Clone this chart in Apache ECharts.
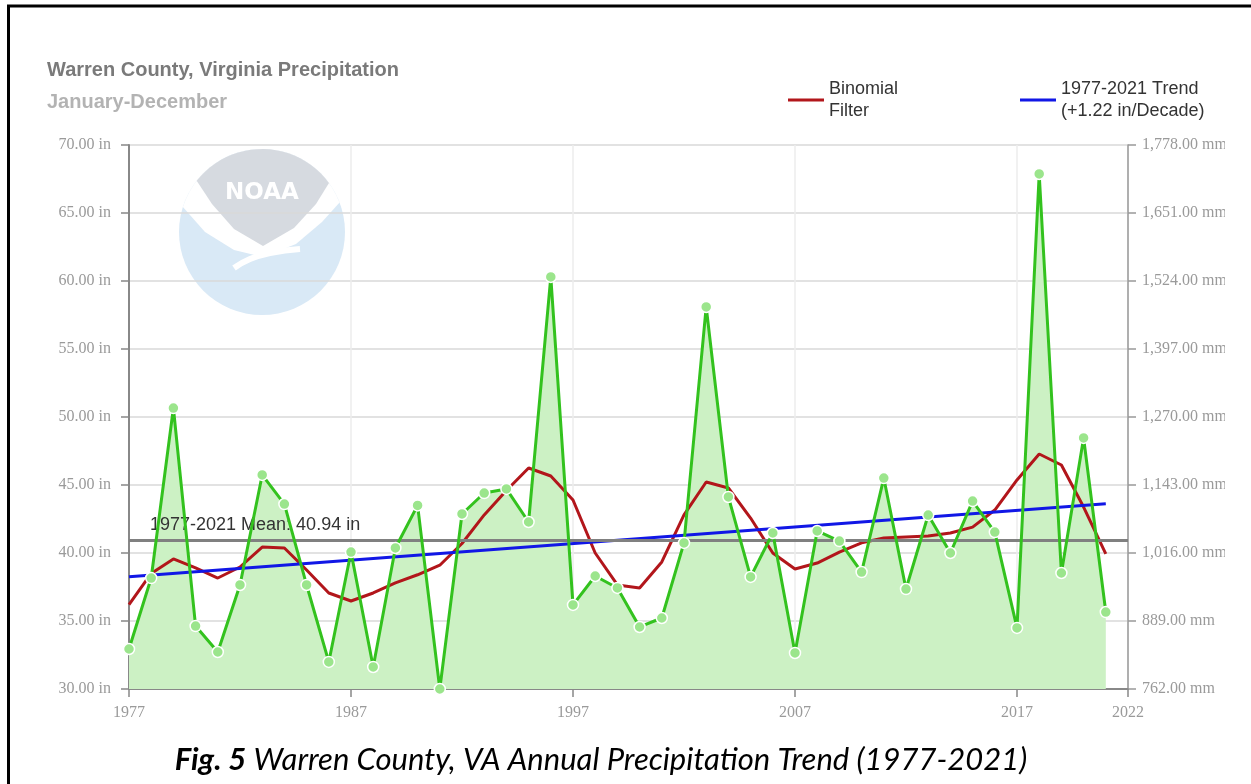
<!DOCTYPE html>
<html>
<head>
<meta charset="utf-8">
<script src="https://cdn.jsdelivr.net/npm/echarts@6/dist/echarts.min.js"></script>
<style>
    html, body { margin: 0; padding: 0; background: #fff; }
    #chart { width: 1251px; height: 784px; }
</style>
</head>
<body>
<div id="chart"></div>
<script>
    // years on the x axis (2022 is only the axis end)
    var years = ['1977','1978','1979','1980','1981','1982','1983','1984','1985','1986',
                 '1987','1988','1989','1990','1991','1992','1993','1994','1995','1996',
                 '1997','1998','1999','2000','2001','2002','2003','2004','2005','2006',
                 '2007','2008','2009','2010','2011','2012','2013','2014','2015','2016',
                 '2017','2018','2019','2020','2021','2022'];
    var labelYears = ['1977','1987','1997','2007','2017','2022'];

    // annual precipitation, inches
    var precip = [32.94, 38.16, 50.66, 34.63, 32.72, 37.65, 45.74, 43.60, 37.65, 31.99,
                  40.07, 31.62, 40.37, 43.50, 30.00, 42.87, 44.41, 44.71, 42.28, 60.30,
                  36.18, 38.31, 37.43, 34.56, 35.22, 40.74, 58.09, 44.12, 38.24, 41.47,
                  32.65, 41.62, 40.88, 38.60, 45.51, 37.35, 42.79, 40.00, 43.82, 41.54,
                  34.49, 67.87, 38.53, 48.46, 35.66];

    // binomial filter
    var binomial = [36.20, 38.50, 39.56, 38.90, 38.16, 38.97, 40.44, 40.37, 38.75, 37.06,
                    36.47, 37.06, 37.80, 38.40, 39.10, 40.70, 42.80, 44.60, 46.25, 45.66,
                    43.90, 40.00, 37.65, 37.43, 39.34, 42.80, 45.22, 44.78, 42.57, 40.00,
                    38.82, 39.26, 40.07, 40.75, 41.10, 41.18, 41.25, 41.47, 41.90, 43.16,
                    45.37, 47.28, 46.47, 43.38, 39.93];

    // trend line end points
    var trendYears = ['1977', '2021'];
    var trendValues = [38.26, 43.62];

    var meanValue = 40.94;

    var inTicks = [30, 70, 5];
    var mmTicks = [762, 1778, 127];

    function showYear(i, v) {
        return labelYears.indexOf(v) !== -1;
    }
    function fmtMM(v) {
        var p = v.toFixed(2).split('.');
        return p[0].replace(/\B(?=(\d{3})+(?!\d))/g, ',') + '.' + p[1] + ' mm';
    }

    // points along the watermark circle, for the logo shapes
    function arc(a1, a2) {
        var pts = [];
        for (var k = 0; k <= 24; k++) {
            var a = (a1 + (a2 - a1) * k / 24) * Math.PI / 180;
            pts.push([262 + 83 * Math.cos(a), 232 + 83 * Math.sin(a)]);
        }
        return pts;
    }
    var capPts = arc(-162.4, -20.8).concat([[322, 222], [296, 244], [263, 257], [234, 250], [205, 232]]);
    var shieldPts = arc(-141.9, -36.2).concat([[316, 204], [294, 228], [263, 246], [234, 229], [212, 204]]);

    var serif = 'Liberation Serif';
    var sans = 'Liberation Sans';

    var myChart = echarts.init(document.getElementById('chart'));
    myChart.setOption({
        animation: false,
        backgroundColor: '#fff',
        title: {
            text: 'Warren County, Virginia Precipitation',
            subtext: 'January-December',
            left: 47,
            top: 60,
            padding: 0,
            itemGap: 12,
            textStyle: { fontFamily: sans, fontWeight: 'bold', fontSize: 20, lineHeight: 20, color: '#7a7a7a' },
            subtextStyle: { fontFamily: sans, fontWeight: 'bold', fontSize: 20, lineHeight: 20, color: '#b3b3b3' }
        },
        legend: [{
            left: 788, top: 78, padding: 0,
            icon: 'rect', itemWidth: 36, itemHeight: 3,
            selectedMode: false,
            data: ['Binomial Filter'],
            formatter: function () { return 'Binomial\nFilter'; },
            textStyle: { fontFamily: sans, fontSize: 18, lineHeight: 22, color: '#333' }
        }, {
            left: 1020, top: 78, padding: 0,
            icon: 'rect', itemWidth: 36, itemHeight: 3,
            selectedMode: false,
            data: ['1977-2021 Trend'],
            formatter: function () { return '1977-2021 Trend\n(+1.22 in/Decade)'; },
            textStyle: { fontFamily: sans, fontSize: 18, lineHeight: 22, color: '#333' }
        }],
        grid: { left: 129, right: 123, top: 145, bottom: 95 },
        xAxis: {
            type: 'category',
            boundaryGap: false,
            data: years,
            axisLine: { lineStyle: { color: '#888', width: 2 } },
            axisTick: { show: true, interval: showYear, length: 8, lineStyle: { color: '#888', width: 1.5 } },
            axisLabel: { interval: showYear, fontFamily: serif, fontSize: 16, color: '#9a9a9a', margin: 16 },
            splitLine: { show: true, interval: showYear, lineStyle: { color: '#ececec', width: 1.5 } }
        },
        yAxis: [{
            type: 'value',
            min: inTicks[0], max: inTicks[1], interval: inTicks[2],
            axisLine: { show: true, lineStyle: { color: '#888', width: 2 } },
            axisTick: { show: true, length: 8, lineStyle: { color: '#888', width: 1.5 } },
            axisLabel: {
                fontFamily: serif, fontSize: 16, color: '#9a9a9a', margin: 18,
                formatter: function (v) { return v.toFixed(2) + ' in'; }
            },
            splitLine: { lineStyle: { color: '#d9d9d9', width: 1.5 } }
        }, {
            type: 'value',
            position: 'right',
            min: mmTicks[0], max: mmTicks[1], interval: mmTicks[2],
            axisLine: { show: true, lineStyle: { color: '#999', width: 1.5 } },
            axisTick: { show: true, length: 8, lineStyle: { color: '#999', width: 1.5 } },
            axisLabel: { fontFamily: serif, fontSize: 16, color: '#9a9a9a', margin: 14, formatter: fmtMM },
            splitLine: { show: false }
        }],
        graphic: [
            // NOAA watermark
            { type: 'circle', z: -1, shape: { cx: 262, cy: 232, r: 83 }, style: { fill: '#d9e9f6' } },
            { type: 'polygon', z: -1, shape: { points: capPts }, style: { fill: '#fff' } },
            { type: 'polygon', z: -1, shape: { points: shieldPts }, style: { fill: '#d6dae0' } },
            { type: 'polyline', z: -1, shape: { points: [[234, 268], [250, 259], [270, 253], [300, 249]], smooth: 0.5 }, style: { stroke: '#fff', lineWidth: 6 } },
            { type: 'text', z: -1, style: { text: 'NOAA', x: 262, y: 193, fill: '#fff', font: 'bold 23px "DejaVu Sans"', align: 'center', verticalAlign: 'middle' } },
            // clip of the right labels
            { type: 'rect', z: 100, shape: { x: 1225, y: 20, width: 40, height: 780 }, style: { fill: '#fff' } },
            // frame
            { type: 'rect', z: 100, shape: { x: 8.5, y: 6, width: 1400, height: 1000 }, style: { fill: 'none', stroke: '#000', lineWidth: 3 } },
            // caption
            {
                type: 'text', z: 100,
                style: {
                    text: '{b|Fig. 5} Warren County, VA Annual Precipitation Trend (1977-2021)',
                    rich: { b: { font: 'italic bold 31px Lato', fill: '#000' } },
                    font: 'italic 31px Lato', fill: '#000',
                    x: 601, y: 760, align: 'center', verticalAlign: 'middle'
                }
            }
        ],
        series: [{
            name: 'area',
            type: 'line',
            data: precip,
            symbol: 'none',
            lineStyle: { width: 0, opacity: 0 },
            areaStyle: { color: '#ccf1c4', opacity: 1, origin: 'start' },
            z: 1,
            markLine: {
                silent: true,
                symbol: ['none', 'none'],
                data: [{ yAxis: meanValue }],
                lineStyle: { color: '#808080', width: 3, type: 'solid' },
                label: {
                    show: true,
                    position: 'insideStartTop',
                    formatter: '1977-2021 Mean: 40.94 in',
                    fontFamily: sans, fontSize: 18, color: '#333',
                    distance: [21, 6]
                }
            }
        }, {
            name: 'Binomial Filter',
            type: 'line',
            data: binomial,
            symbol: 'none',
            color: '#b2161b',
            lineStyle: { color: '#b2161b', width: 3 },
            z: 3
        }, {
            name: '1977-2021 Trend',
            type: 'line',
            data: trendYears.map(function (y, i) { return [y, trendValues[i]]; }),
            symbol: 'none',
            color: '#1117e6',
            lineStyle: { color: '#1117e6', width: 3 },
            z: 3
        }, {
            name: 'Precipitation',
            type: 'line',
            data: precip,
            symbol: 'circle',
            symbolSize: 11,
            itemStyle: { color: '#9be58c', borderColor: '#fff', borderWidth: 1.5 },
            lineStyle: { color: '#33c21e', width: 3 },
            z: 5
        }]
    });
</script>
</body>
</html>
